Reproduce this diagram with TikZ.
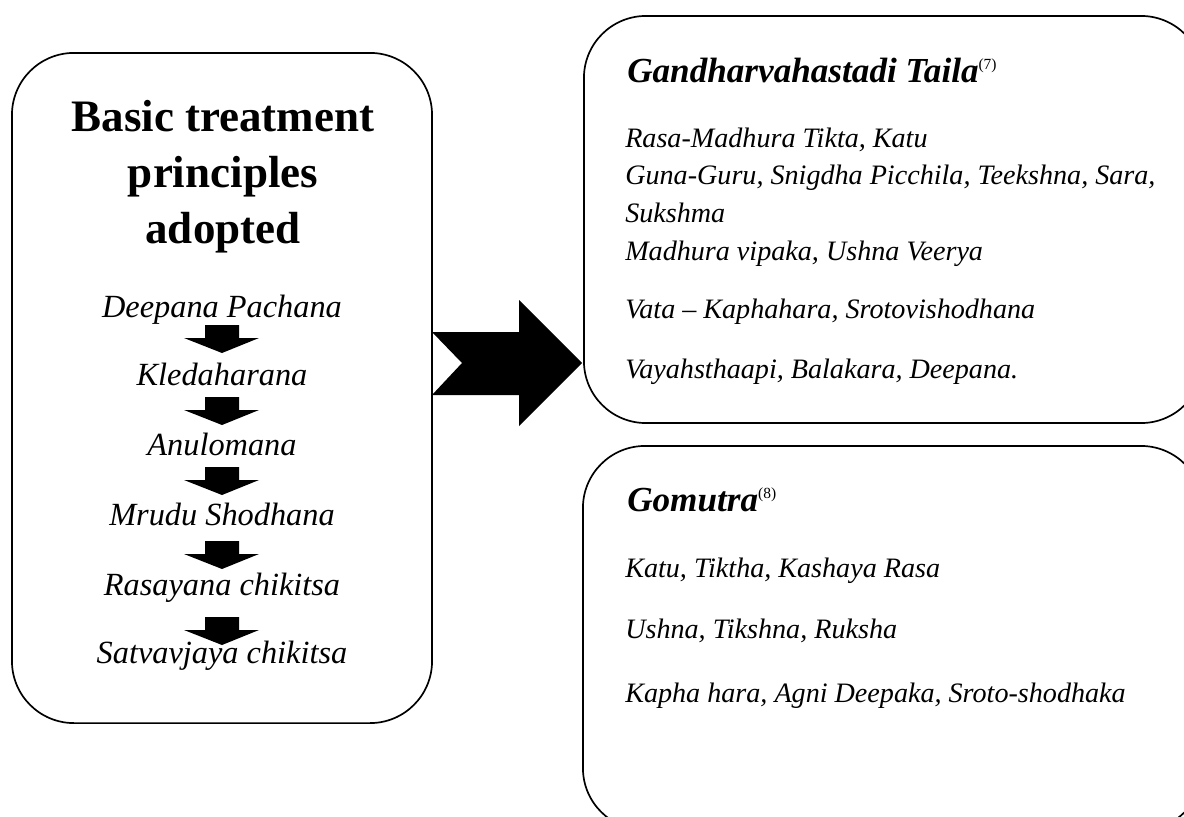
\documentclass[tikz,border=0pt]{standalone}
\usepackage{fontspec}
\setmainfont{Liberation Serif}

\tikzset{
  roundbox/.style={draw, line width=1.2pt, rounded corners=1.55cm, inner sep=0pt},
  itemtext/.style={anchor=base, inner sep=0pt, font=\fontsize{23}{28}\selectfont\itshape},
  bodytext/.style={anchor=base west, inner sep=0pt, font=\fontsize{20}{24}\selectfont\itshape},
  headtext/.style={anchor=base west, inner sep=0pt, font=\fontsize{25}{30}\selectfont\bfseries\itshape},
  downblock/.pic={\fill (-17,0) -- (17,0) -- (17,13) -- (37,13) -- (0,28) -- (-38,13) -- (-17,13) -- cycle;}
}
\newcommand{\refno}[1]{\textsuperscript{\normalfont\fontsize{11}{11}\selectfont(#1)}}

\begin{document}
\begin{tikzpicture}[x=0.025cm,y=-0.025cm]
    \useasboundingbox (0,0) rectangle (1184,816);
    \clip (0,0) rectangle (1184,816);

    % boxes
    \node[roundbox, minimum width=10.5cm,   minimum height=16.75cm]  (basic)   at (222,388)   {};
    \node[roundbox, minimum width=15.475cm, minimum height=10.175cm] (taila)   at (893.5,219.5) {};
    \node[roundbox, minimum width=15.5cm,   minimum height=9.6cm]    (gomutra) at (893,638)   {};

    % left box
    \node[anchor=base, inner sep=0pt, align=center, font=\fontsize{32}{39.7}\selectfont\bfseries]
        (title) at (223,243) {Basic treatment\\ principles\\ adopted};
    \foreach \name/\yy/\txt in {deepana/317/Deepana Pachana, kleda/385/Kledaharana,
                                anulo/455/Anulomana, mrudu/525/Mrudu Shodhana,
                                rasa/595/Rasayana chikitsa, satva/663/Satvavjaya chikitsa}
        \node[itemtext] (\name) at (222,\yy) {\txt};
    \foreach \yy in {325,397,467,541,617}
        \pic at (222,\yy) {downblock};

    % big arrow
    \fill (432,332) -- (519,332) -- (519,300) -- (582,363) -- (519,426) -- (519,395)
          -- (432,395) -- (462,363) -- cycle;

    % Gandharvahastadi Taila
    \node[headtext] (taila-head) at (627,82) {Gandharvahastadi Taila\refno{7}};
    \node[bodytext] (taila-1) at (625,147) {Rasa-Madhura Tikta, Katu};
    \node[bodytext] (taila-2) at (625,184) {Guna-Guru, Snigdha Picchila, Teekshna, Sara,};
    \node[bodytext] (taila-3) at (625,222) {Sukshma};
    \node[bodytext] (taila-4) at (625,260) {Madhura vipaka, Ushna Veerya};
    \node[bodytext] (taila-5) at (625,318) {Vata -- Kaphahara, Srotovishodhana};
    \node[bodytext] (taila-6) at (625,378) {Vayahsthaapi, Balakara, Deepana.};

    % Gomutra
    \node[headtext] (gomutra-head) at (627,511) {Gomutra\refno{8}};
    \node[bodytext] (gomutra-1) at (625,577) {Katu, Tiktha, Kashaya Rasa};
    \node[bodytext] (gomutra-2) at (625,638) {Ushna, Tikshna, Ruksha};
    \node[bodytext] (gomutra-3) at (625,702) {Kapha hara, Agni Deepaka, Sroto-shodhaka};
\end{tikzpicture}
\end{document}
